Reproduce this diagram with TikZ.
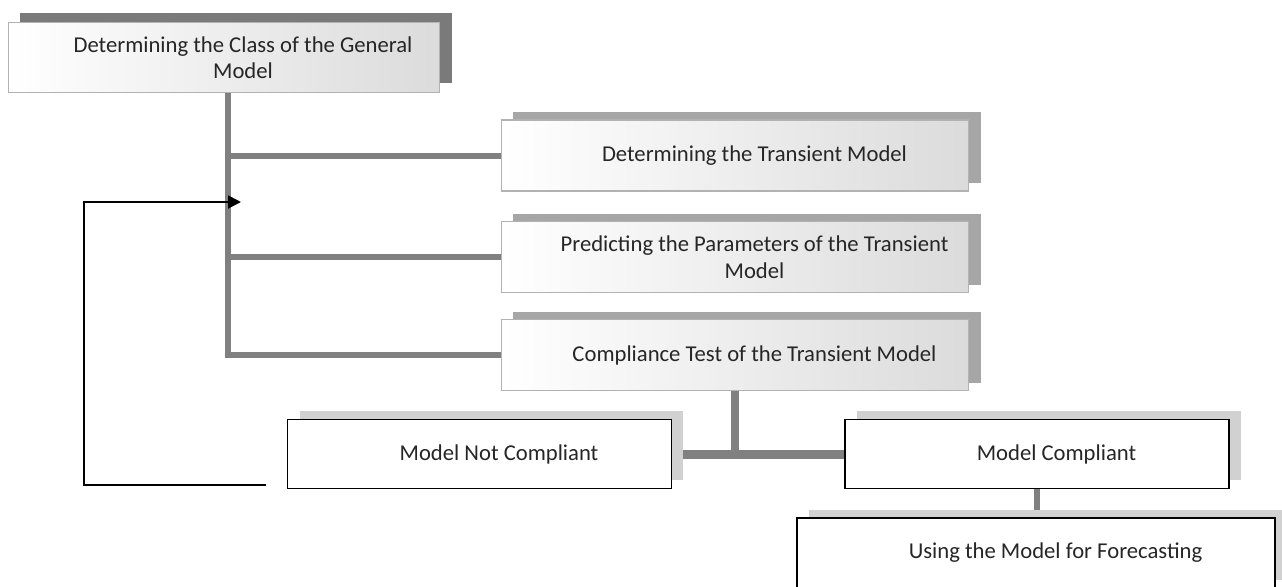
\documentclass[tikz,border=0pt]{standalone}
\usepackage{fontspec}
\setmainfont{Carlito}
\usepackage{tikz}
\usetikzlibrary{shapes,arrows.meta,positioning,calc,shadows,backgrounds}
\tikzstyle{phase} = [rectangle, minimum width=9.36cm, minimum height=1.42cm, draw=black!30, line width=0.6pt, left color=white, right color=black!14]
\tikzstyle{darkshade} = [general shadow={fill=black!52, shadow xshift=0.24cm, shadow yshift=0.19cm}]
\tikzstyle{greyshade} = [general shadow={fill=black!35, shadow xshift=0.24cm, shadow yshift=0.16cm}]
\tikzstyle{result} = [rectangle, minimum width=7.68cm, minimum height=1.38cm, draw=black, line width=0.8pt, fill=white, general shadow={fill=black!18, shadow xshift=0.24cm, shadow yshift=0.17cm}]
\tikzstyle{boxtext} = [align=center, inner sep=0pt, text=black!85, font=\fontsize{12.9}{15.4}\selectfont]
\tikzstyle{branch} = [line width=0.12cm, draw=black!50]
\tikzstyle{loopback} = [line width=1.1pt, -{Triangle[length=0.26cm,width=0.26cm]}]

\begin{document}
\begin{tikzpicture}[x=0.02cm, y=-0.02cm]
\useasboundingbox (0,0) rectangle (1282,586);

% Boites
\node (general) [phase, darkshade, minimum width=8.64cm, minimum height=1.40cm] at (224,57.5) {};
\node (transient) [phase, greyshade] at (735,155.5) {};
\node (params) [phase, greyshade] at (735,257) {};
\node (test) [phase, greyshade] at (735,355) {};
\node (notcomp) [result] at (479.5,454) {};
\node (comp) [result] at (1037,454) {};
\node (forecast) [result, minimum width=9.56cm, minimum height=1.40cm] at (1036,553) {};

% Textes
\node (general-txt) [boxtext, font=\fontsize{12.9}{14.6}\selectfont] at ([xshift=0.38cm]general.center) {Determining the Class of the General\\Model};
\node (transient-txt) [boxtext] at ([xshift=0.39cm]transient.center) {Determining the Transient Model};
\node (params-txt) [boxtext] at ([xshift=0.39cm]params.center) {Predicting the Parameters of the Transient\\Model};
\node (test-txt) [boxtext] at ([xshift=0.39cm]test.center) {Compliance Test of the Transient Model};
\node (notcomp-txt) [boxtext] at ([xshift=0.39cm]notcomp.center) {Model Not Compliant};
\node (comp-txt) [boxtext] at ([xshift=0.39cm]comp.center) {Model Compliant};
\node (forecast-txt) [boxtext] at ([xshift=0.39cm]forecast.center) {Using the Model for Forecasting};

% Liaisons
\begin{scope}[on background layer]
\draw [branch] ([xshift=0.08cm]general.south) |- (transient.west);
\draw [branch] ([xshift=0.08cm]general.south) |- (params.west);
\draw [branch] ([xshift=0.08cm]general.south) |- (test.west);
\draw [branch, line width=0.17cm] (test.south) -- (test.south |- notcomp.east);
\draw [branch, line width=0.18cm] (notcomp.east) -- (comp.west);
\draw [branch] (comp.south) -- (comp.south |- forecast.north);
\end{scope}

% Retour
\coordinate (back) at ([xshift=-0.42cm, yshift=0.08cm]notcomp.south west);
\coordinate (rejoin) at (241,202);
\draw [loopback] (back) -- ++(-182,0) |- (rejoin);

\end{tikzpicture}
\end{document}
